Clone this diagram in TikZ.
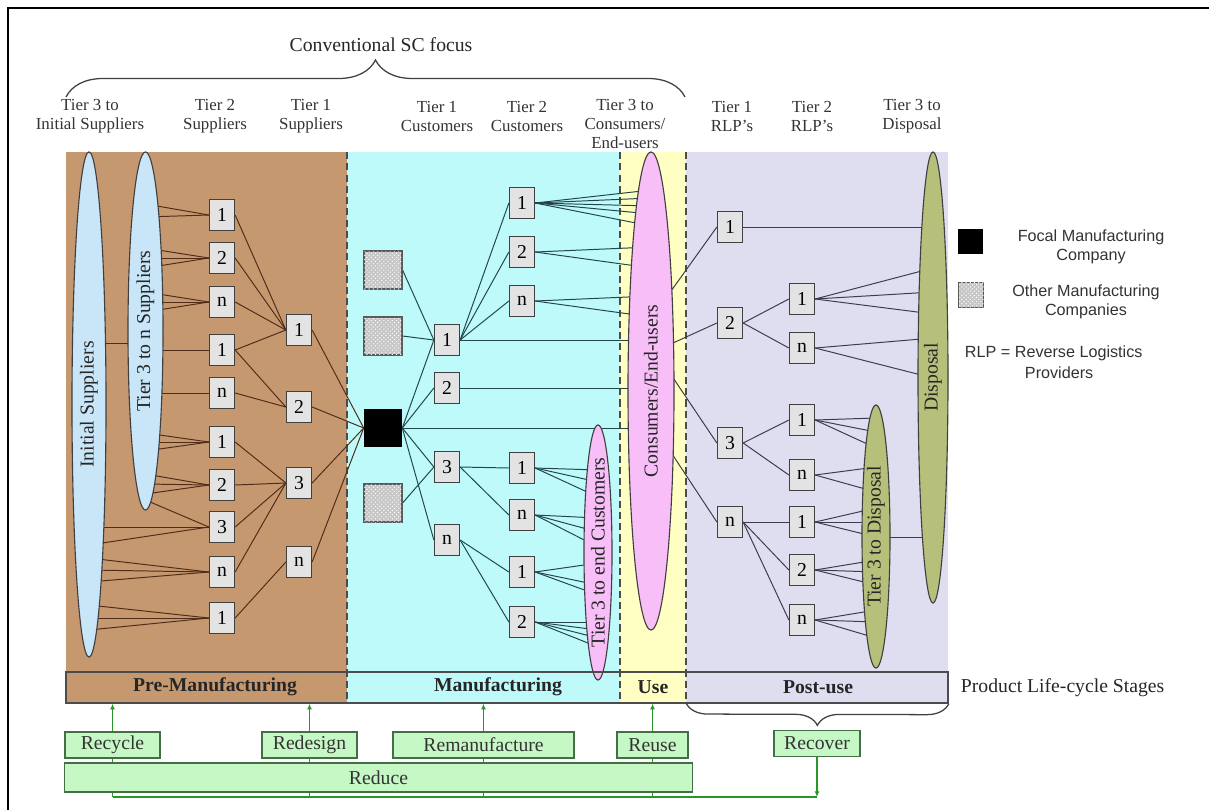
\documentclass[tikz,border=0pt]{standalone}
\usepackage{fontspec}
\setmainfont{Liberation Serif}
\newfontfamily\legendfont{Liberation Sans}
\usetikzlibrary{arrows.meta, decorations.pathreplacing,
  positioning, shapes.geometric, patterns}
\pgfdeclarelayer{bg}
\pgfdeclarelayer{edges}
\pgfsetlayers{bg,edges,main}

\definecolor{premfg}{RGB}{198,152,112}
\definecolor{mfgcol}{RGB}{190,250,250}
\definecolor{usecol}{RGB}{255,255,195}
\definecolor{postcol}{RGB}{222,222,240}
\definecolor{prel}{RGB}{80,45,25}
\definecolor{manl}{RGB}{35,70,75}
\definecolor{postl}{RGB}{60,60,80}
\definecolor{ellblue}{RGB}{200,230,248}
\definecolor{ellpink}{RGB}{248,190,248}
\definecolor{ellolive}{RGB}{182,192,122}
\definecolor{greenbox}{RGB}{198,248,198}
\definecolor{greenline}{RGB}{40,150,40}
\definecolor{greenedge}{RGB}{70,110,70}

\newcommand{\boxtxt}{\fontsize{14}{16}\selectfont}
\newcommand{\hdtxt}{\fontsize{12}{13.5}\selectfont}
\newcommand{\lgdtxt}{\legendfont\fontsize{11.5}{13.5}\selectfont}

\begin{document}
\begin{tikzpicture}[x=0.025cm, y=-0.025cm, >=Latex]
  \tikzset{
    tierbox/.style={draw=black!75, line width=0.9pt, fill=gray!22,
      minimum width=0.625cm, minimum height=0.775cm, inner sep=0pt,
      font=\boxtxt},
    othbox/.style={draw=black!65, line width=0.8pt, fill=gray!45,
      postaction={pattern=crosshatch dots, pattern color=white},
      minimum size=0.95cm, inner sep=0pt},
    focalbox/.style={fill=black, minimum size=0.95cm, inner sep=0pt},
    ell/.style={ellipse, draw=black!75, line width=0.8pt, inner sep=0pt},
    ellabel/.style={rotate=90, font=\boxtxt, text=black!85},
    header/.style={align=center, font=\hdtxt, text=black!80},
    stage/.style={font=\boxtxt\bfseries, text=black!85},
    rbox/.style={draw=greenedge, line width=0.8pt, fill=greenbox,
      inner sep=0pt, minimum height=0.65cm, font=\boxtxt, text=black!80},
    preline/.style={draw=prel, line width=0.7pt},
    manline/.style={draw=manl, line width=0.7pt},
    postline/.style={draw=postl, line width=0.7pt},
    stageline/.style={draw=greenline, line width=0.8pt},
    divider/.style={draw=black!70, line width=1pt, dash pattern=on 5pt off 3pt},
    brc/.style={decorate, draw=black!75, line width=0.9pt},
    legend/.style={font=\lgdtxt, align=center, text=black!80},
  }
  \useasboundingbox (0,0) rectangle (1209,810);
  \draw[line width=1.4pt] (8,810) -- (8,8) -- (1209,8);

  % Life-cycle regions
  \begin{pgfonlayer}{bg}
    \fill[premfg] (66,152) rectangle (347,703);
    \fill[mfgcol] (347,152) rectangle (620,703);
    \fill[usecol] (620,152) rectangle (686,703);
    \fill[postcol] (686,152) rectangle (948,703);
  \end{pgfonlayer}
  \begin{pgfonlayer}{edges}
    \foreach \x in {347,620,686}
      \draw[divider] (\x,152) -- (\x,703);
  \end{pgfonlayer}

  % Column headers
  \node[header] (h-init) at (90,116) {Tier 3 to\\Initial Suppliers};
  \node[header] (h-sup2) at (215,116) {Tier 2\\Suppliers};
  \node[header] (h-sup1) at (311,116) {Tier 1\\Suppliers};
  \node[header] (h-cus1) at (437,116) {Tier 1\\Customers};
  \node[header] (h-cus2) at (527,116) {Tier 2\\Customers};
  \node[header] (h-cons) at (625,124) {Tier 3 to\\Consumers/\\End-users};
  \node[header] (h-rlp1) at (732,116) {Tier 1\\RLP's};
  \node[header] (h-rlp2) at (812,116) {Tier 2\\RLP's};
  \node[header] (h-disp) at (912,116) {Tier 3 to\\Disposal};

  % Conventional SC focus
  \coordinate (scl) at (66,97);
  \coordinate (scr) at (685,97);
  \draw[brc, decoration={brace, amplitude=0.925cm}] (scl) -- (scr);
  \node[font=\boxtxt, text=black!85] (scfocus) at (381,45) {Conventional SC focus};

  % Ellipses
  \node[ell, fill=ellblue, minimum width=0.85cm, minimum height=12.625cm] (init) at (89,404.5) {};
  \node[ellabel] (init-l) at (init) {Initial Suppliers};
  \node[ell, fill=ellblue, minimum width=0.875cm, minimum height=8.95cm] (tsup) at (145.5,331) {};
  \node[ellabel] (tsup-l) at (tsup) {Tier 3 to n Suppliers};
  \node[ell, fill=ellpink, minimum width=1.15cm, minimum height=11.95cm] (cons) at (651,391) {};
  \node[ellabel] (cons-l) at (cons) {Consumers/End-users};
  \node[ell, fill=ellpink, minimum width=0.7cm, minimum height=6.375cm] (tcus) at (598,552.5) {};
  \node[ellabel] (tcus-l) at (tcus) {Tier 3 to end Customers};
  \node[ell, fill=ellolive, minimum width=0.75cm, minimum height=11.275cm] (disp) at (933,377.5) {};
  \node[ellabel] (disp-l) at (disp) {Disposal};
  \node[ell, fill=ellolive, minimum width=0.7cm, minimum height=6.575cm] (tdisp) at (876,536.5) {};
  \node[ellabel] (tdisp-l) at (tdisp) {Tier 3 to Disposal};

  % Tier boxes
  \foreach \y/\t [count=\i] in {215/1, 258/2, 302/n, 350/1, 393/n,
      442/1, 485/2, 527/3, 572/n, 618/1}
    \node[tierbox] (s2-\i) at (222,\y) {\t};
  \foreach \y/\t [count=\i] in {330/1, 407/2, 483/3, 562/n}
    \node[tierbox] (s1-\i) at (299,\y) {\t};
  \node[focalbox] (focal) at (383,428) {};
  \foreach \y [count=\i] in {270,336,503}
    \node[othbox] (oth\i) at (383,\y) {};
  \foreach \y/\t [count=\i] in {340/1, 388/2, 467/3, 540/n}
    \node[tierbox] (c1-\i) at (447,\y) {\t};
  \foreach \y/\t [count=\i] in {203/1, 252/2, 301/n, 468/1, 515/n, 572/1, 622/2}
    \node[tierbox] (c2-\i) at (522,\y) {\t};
  \foreach \y/\t [count=\i] in {227/1, 323/2, 443/3, 522/n}
    \node[tierbox] (r1-\i) at (730,\y) {\t};
  \foreach \y/\t [count=\i] in {299/1, 348/n, 420/1, 475/n, 522/1, 570/2, 620/n}
    \node[tierbox] (r2-\i) at (802,\y) {\t};

  \begin{pgfonlayer}{edges}
    % Pre-manufacturing links
    \foreach \b/\ys in {1/{204,217}, 2/{248,258,268}, 3/{292,302,312}, 4/{350},
        5/{393}, 6/{433,442,451}, 7/{474,484,494}, 8/{500}}
      \foreach \y in \ys \draw[preline] (tsup |- 0,\y) -- (s2-\b.west);
    \foreach \b/\ys in {8/{527,545}, 9/{558,570,582}, 10/{605,618,630}}
      \foreach \y in \ys \draw[preline] (init |- 0,\y) -- (s2-\b.west);
    \draw[preline] (init |- 0,343) -- (tsup |- 0,343);
    \foreach \a/\b in {1/1, 2/1, 3/1, 4/1, 4/2, 5/2, 6/3, 7/3, 8/3, 9/3, 10/4}
      \draw[preline] (s2-\a.east) -- (s1-\b.west);
    \foreach \b in {1,...,4}
      \draw[preline] (s1-\b.east) -- (focal.west);

    % Manufacturing links
    \foreach \b in {1,...,4}
      \draw[manline] (focal.east) -- (c1-\b.west);
    \draw[manline] (focal.east) -- (cons |- focal.east);
    \draw[manline] (oth1.east) -- (c1-1.west);
    \draw[manline] (oth2.east) -- (c1-1.west);
    \draw[manline] (oth3.east) -- (c1-3.west);
    \foreach \a/\b in {1/1, 1/2, 1/3, 3/4, 3/5, 4/6, 4/7}
      \draw[manline] (c1-\a.east) -- (c2-\b.west);
    \foreach \b in {1,2}
      \draw[manline] (c1-\b.east) -- (cons |- c1-\b.east);
    \foreach \b/\t/\ys in {1/cons/{190,198,206,214,226}, 2/cons/{247,268},
        3/cons/{296,317}, 4/tcus/{470,482,497}, 5/tcus/{518,532,547},
        6/tcus/{563,585,595}, 7/tcus/{622,630,638,647}}
      \foreach \y in \ys \draw[manline] (c2-\b.east) -- (\t |- 0,\y);

    % Post-use links
    \foreach \b/\y in {1/319, 2/353, 3/345, 4/422}
      \draw[postline] (cons |- 0,\y) -- (r1-\b.west);
    \draw[postline] (r1-1.east) -- (disp |- r1-1.east);
    \foreach \a/\b in {2/1, 2/2, 3/3, 3/4, 4/5, 4/6, 4/7}
      \draw[postline] (r1-\a.east) -- (r2-\b.west);
    \foreach \b/\t/\ys in {1/disp/{268,292,314}, 2/disp/{338,378},
        3/tdisp/{418,432,448}, 4/tdisp/{467,492}, 5/tdisp/{508,522,537},
        6/tdisp/{560,572,585}, 7/tdisp/{610,622,638}}
      \foreach \y in \ys \draw[postline] (r2-\b.east) -- (\t |- 0,\y);
    \draw[postline] (tdisp |- 0,537) -- (disp |- 0,537);
  \end{pgfonlayer}

  % Stage bar
  \node[draw=black!70, line width=1pt, minimum width=22.05cm,
    minimum height=0.775cm, inner sep=0pt] (bar) at (507,687.5) {};
  \node[stage] (st-pre) at (215,687) {Pre-Manufacturing};
  \node[stage] (st-man) at (498,687) {Manufacturing};
  \node[stage] (st-use) at (653,687) {Use};
  \node[stage] (st-post) at (818,687) {Post-use};
  \node[font=\boxtxt, anchor=west, text=black!85] (plcs) at (956,688)
    {Product Life-cycle Stages};
  \coordinate (pul) at (686,703);
  \draw[brc, decoration={brace, amplitude=0.55cm}] (bar.south east) -- (pul);

  % Strategies
  \node[rbox, minimum width=2.375cm] (rcy) at (112.5,745) {Recycle};
  \node[rbox, minimum width=2.375cm] (rds) at (309.5,745) {Redesign};
  \node[rbox, minimum width=4.525cm] (rmf) at (483.5,745) {Remanufacture};
  \node[rbox, minimum width=1.775cm] (rus) at (652.5,745) {Reuse};
  \node[rbox, minimum width=2.15cm] (rcv) at (817,743.5) {Recover};
  \node[rbox, minimum width=15.675cm, minimum height=0.725cm] (rdc) at (378.5,777.5) {Reduce};
  \coordinate (flow) at (0,797);
  \begin{pgfonlayer}{edges}
    \foreach \n in {rcy,rds,rmf,rus} {
      \draw[stageline, -{Latex[length=4pt, width=3.5pt]}] (\n.north) -- (\n.north |- bar.south);
      \draw[stageline] (\n.south) -- (\n.south |- flow);
    }
    \draw[stageline, -{Latex[length=4pt, width=3.5pt]}] (rcv.south) -- (rcv.south |- flow);
    \draw[stageline] (rcy.south |- flow) -- (rcv.south |- flow);
  \end{pgfonlayer}

  % Legend
  \node[focalbox, minimum size=0.625cm] (lgfocal) at (970,241) {};
  \node[legend, right=0.75cm of lgfocal, yshift=-4pt] (lgfocal-t)
    {Focal Manufacturing\\Company};
  \node[othbox, minimum size=0.625cm] (lgoth) at (971,295) {};
  \node[legend, right=0.58cm of lgoth, yshift=-5pt] (lgoth-t)
    {Other Manufacturing\\Companies};
  \node[legend, anchor=west] (lgrlp) at (960,353) {RLP = Reverse Logistics};
  \node[legend, anchor=west] (lgrlp-p) at (1020,373) {Providers};
\end{tikzpicture}
\end{document}
